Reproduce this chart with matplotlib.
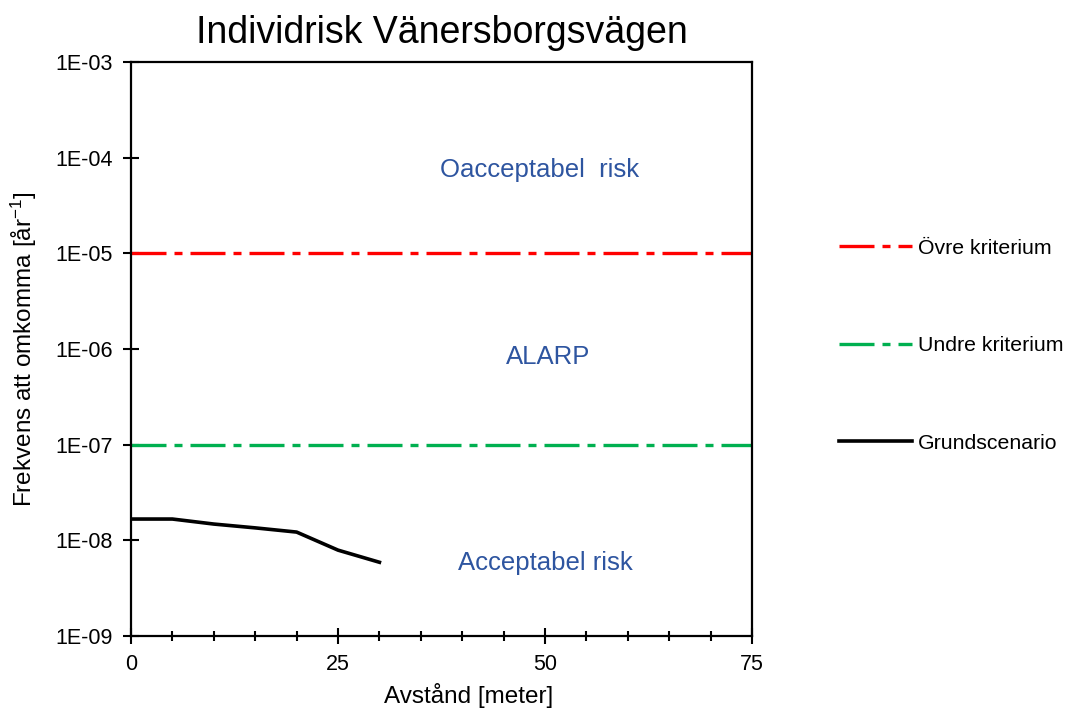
import numpy as np
import matplotlib
matplotlib.use("Agg")
import matplotlib.pyplot as plt
from matplotlib.ticker import FixedLocator, FuncFormatter, NullLocator

plt.rcParams["font.family"] = ["Liberation Sans", "DejaVu Sans"]
plt.rcParams["mathtext.default"] = "regular"

# ---------------------------------------------------------------------------
# Data
# ---------------------------------------------------------------------------
avstand = [0, 5, 10, 15, 20, 25, 30]
grundscenario = [1.67e-8, 1.67e-8, 1.48e-8, 1.35e-8, 1.22e-8, 7.9e-9, 5.9e-9]

kriterium_x = [0, 75]
ovre_kriterium = [1e-5, 1e-5]
undre_kriterium = [1e-7, 1e-7]

zone_labels = ["Oacceptabel  risk", "ALARP", "Acceptabel risk"]
zone_x = [49.4, 50.4, 50.0]
zone_y = [7.4e-5, 8.3e-7, 5.8e-9]

TEXT_BLUE = "#2E55A0"
DASHES = (10.5, 2.4, 2.4, 2.4)

fig = plt.figure(figsize=(10.67, 7.10), dpi=100)
ax = fig.add_axes([0.1228, 0.1042, 0.582, 0.8085])

ax.plot(kriterium_x, ovre_kriterium, color="#FF0000", lw=2.4,
        dashes=DASHES, dash_capstyle="butt", label="Övre kriterium")
ax.plot(kriterium_x, undre_kriterium, color="#00B050", lw=2.4,
        dashes=DASHES, dash_capstyle="butt", label="Undre kriterium")
ax.plot(avstand, grundscenario, color="black", lw=2.6, label="Grundscenario")

for txt, x, y in zip(zone_labels, zone_x, zone_y):
    ax.text(x, y, txt, color=TEXT_BLUE, fontsize=18.5, ha="center", va="center")

ax.set_yscale("log")
ax.set_xlim(0, 75)
ax.set_ylim(1e-9, 1e-3)

ax.xaxis.set_major_locator(FixedLocator([0, 25, 50, 75]))
ax.xaxis.set_minor_locator(FixedLocator(np.arange(0, 76, 5)))
ax.yaxis.set_major_locator(FixedLocator([10.0 ** e for e in range(-9, -2)]))
ax.yaxis.set_minor_locator(NullLocator())
ax.yaxis.set_major_formatter(
    FuncFormatter(lambda v, _: f"1E{int(round(np.log10(v))):03d}"))

ax.tick_params(which="major", direction="inout", length=12, width=1.5,
               labelsize=15.5)
ax.tick_params(axis="y", which="major", pad=7)
ax.tick_params(axis="x", which="major", pad=7)
ax.tick_params(which="minor", direction="inout", length=7, width=1.5)
for sp in ax.spines.values():
    sp.set_linewidth(1.6)

ax.set_xlabel("Avstånd [meter]", fontsize=17.5)
ax.xaxis.set_label_coords(0.543, -0.082)
ax.set_ylabel("Frekvens att omkomma [år$^{-1}$]", fontsize=17.5, labelpad=12)
ax.set_title("Individrisk Vänersborgsvägen", fontsize=27, pad=14)

fig.legend(loc="center left", bbox_to_anchor=(0.7866, 0.513), frameon=False,
           fontsize=15.3, handlelength=3.4, handletextpad=0.3, labelspacing=3.7,
           borderaxespad=0, borderpad=0)

fig.savefig("out.png", dpi=100)
